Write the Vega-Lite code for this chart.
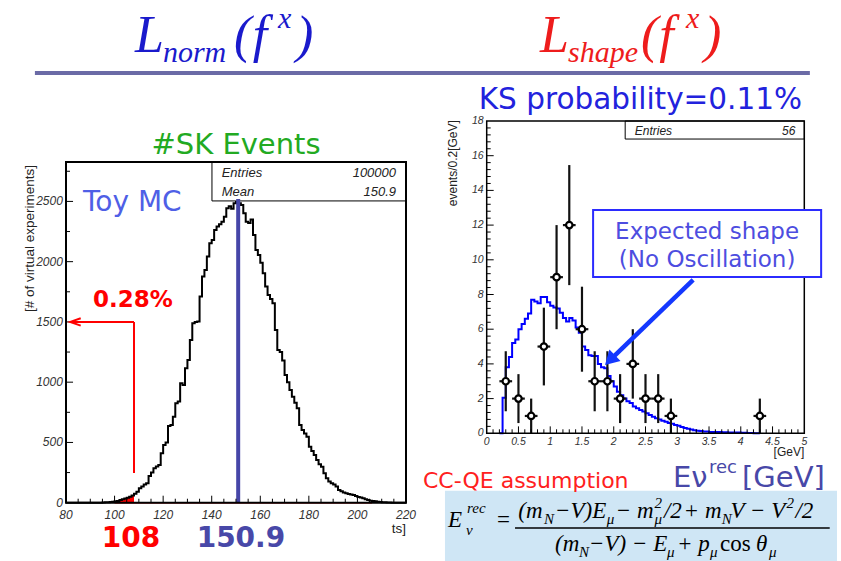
{
"$schema": "https://vega.github.io/schema/vega-lite/v6.json",
"width": 841, "height": 561,
"autosize": {"type": "none"},
"padding": 0,
"background": "white",
"config": {"view": {"stroke": null}},
"datasets": {
"toy": [{"x":80,"n":0},{"x":94,"n":0},{"x":95,"n":2},{"x":96,"n":3},{"x":97,"n":4},{"x":98,"n":5},{"x":99,"n":8},{"x":100,"n":12},{"x":101,"n":15},{"x":102,"n":22},{"x":103,"n":28},{"x":104,"n":35},{"x":105,"n":42},{"x":106,"n":50},{"x":107,"n":60},{"x":108,"n":75},{"x":109,"n":91},{"x":110,"n":119},{"x":111,"n":135},{"x":112,"n":150},{"x":113,"n":161},{"x":114,"n":222},{"x":115,"n":250},{"x":116,"n":285},{"x":117,"n":300},{"x":118,"n":313},{"x":119,"n":410},{"x":120,"n":479},{"x":121,"n":500},{"x":122,"n":636},{"x":123,"n":645},{"x":124,"n":714},{"x":125,"n":825},{"x":126,"n":839},{"x":127,"n":991},{"x":128,"n":977},{"x":129,"n":1115},{"x":130,"n":1184},{"x":131,"n":1350},{"x":132,"n":1489},{"x":133,"n":1500},{"x":134,"n":1503},{"x":135,"n":1710},{"x":136,"n":1876},{"x":137,"n":1931},{"x":138,"n":2042},{"x":139,"n":2153},{"x":140,"n":2180},{"x":141,"n":2263},{"x":142,"n":2291},{"x":143,"n":2310},{"x":144,"n":2332},{"x":145,"n":2373},{"x":146,"n":2443},{"x":147,"n":2460},{"x":148,"n":2440},{"x":149,"n":2485},{"x":150,"n":2500},{"x":151,"n":2485},{"x":152,"n":2470},{"x":153,"n":2402},{"x":154,"n":2332},{"x":155,"n":2320},{"x":156,"n":2350},{"x":157,"n":2222},{"x":158,"n":2097},{"x":159,"n":2056},{"x":160,"n":1990},{"x":161,"n":1904},{"x":162,"n":1793},{"x":163,"n":1724},{"x":164,"n":1690},{"x":165,"n":1655},{"x":166,"n":1433},{"x":167,"n":1267},{"x":168,"n":1250},{"x":169,"n":1180},{"x":170,"n":1060},{"x":171,"n":1000},{"x":172,"n":935},{"x":173,"n":880},{"x":174,"n":830},{"x":175,"n":783},{"x":176,"n":645},{"x":177,"n":603},{"x":178,"n":575},{"x":179,"n":548},{"x":180,"n":465},{"x":181,"n":430},{"x":182,"n":396},{"x":183,"n":355},{"x":184,"n":320},{"x":185,"n":299},{"x":186,"n":244},{"x":187,"n":203},{"x":188,"n":175},{"x":189,"n":161},{"x":190,"n":150},{"x":191,"n":134},{"x":192,"n":105},{"x":193,"n":95},{"x":194,"n":85},{"x":195,"n":78},{"x":196,"n":72},{"x":197,"n":68},{"x":198,"n":64},{"x":199,"n":55},{"x":200,"n":48},{"x":201,"n":44},{"x":202,"n":36},{"x":203,"n":28},{"x":204,"n":22},{"x":205,"n":17},{"x":206,"n":14},{"x":207,"n":11},{"x":208,"n":8},{"x":209,"n":6},{"x":210,"n":4},{"x":211,"n":3},{"x":212,"n":2},{"x":213,"n":1},{"x":214,"n":0},{"x":220,"n":0}],
"exp": [{"x":0.2,"n":0},{"x":0.25,"n":2.05},{"x":0.3,"n":3.8},{"x":0.35,"n":4.4},{"x":0.4,"n":5.2},{"x":0.45,"n":5.4},{"x":0.5,"n":6.0},{"x":0.55,"n":6.3},{"x":0.6,"n":6.6},{"x":0.65,"n":6.9},{"x":0.7,"n":7.7},{"x":0.75,"n":7.6},{"x":0.8,"n":7.5},{"x":0.85,"n":7.85},{"x":0.9,"n":7.85},{"x":0.95,"n":7.55},{"x":1.0,"n":7.35},{"x":1.05,"n":7.25},{"x":1.1,"n":7.2},{"x":1.15,"n":6.95},{"x":1.2,"n":6.65},{"x":1.25,"n":6.45},{"x":1.3,"n":6.65},{"x":1.35,"n":6.5},{"x":1.4,"n":6.1},{"x":1.45,"n":5.8},{"x":1.5,"n":5.0},{"x":1.55,"n":4.8},{"x":1.6,"n":4.5},{"x":1.65,"n":4.45},{"x":1.7,"n":4.45},{"x":1.75,"n":4.0},{"x":1.8,"n":3.8},{"x":1.85,"n":3.75},{"x":1.9,"n":3.3},{"x":1.95,"n":3.0},{"x":2.0,"n":2.7},{"x":2.05,"n":2.4},{"x":2.1,"n":2.2},{"x":2.15,"n":2.0},{"x":2.2,"n":1.85},{"x":2.25,"n":1.75},{"x":2.3,"n":1.55},{"x":2.35,"n":1.45},{"x":2.4,"n":1.35},{"x":2.45,"n":1.25},{"x":2.5,"n":1.15},{"x":2.55,"n":1.05},{"x":2.6,"n":0.95},{"x":2.65,"n":0.87},{"x":2.7,"n":0.8},{"x":2.75,"n":0.72},{"x":2.8,"n":0.66},{"x":2.85,"n":0.6},{"x":2.9,"n":0.55},{"x":2.95,"n":0.48},{"x":3.0,"n":0.43},{"x":3.05,"n":0.36},{"x":3.1,"n":0.3},{"x":3.15,"n":0.26},{"x":3.2,"n":0.22},{"x":3.25,"n":0.18},{"x":3.3,"n":0.15},{"x":3.35,"n":0.13},{"x":3.4,"n":0.11},{"x":3.45,"n":0.1},{"x":3.5,"n":0.08},{"x":3.6,"n":0.07},{"x":3.7,"n":0.06},{"x":3.8,"n":0.05},{"x":3.9,"n":0.04},{"x":4.0,"n":0.03},{"x":4.1,"n":0.02},{"x":4.2,"n":0.01},{"x":4.3,"n":0}],
"pts": [{"x":0.3,"n":3,"lo":1.27,"hi":4.73,"xl":0.2,"xh":0.4},{"x":0.5,"n":2,"lo":0.59,"hi":3.41,"xl":0.4,"xh":0.6},{"x":0.7,"n":1,"lo":0,"hi":2,"xl":0.6,"xh":0.8},{"x":0.9,"n":5,"lo":2.76,"hi":7.24,"xl":0.8,"xh":1.0},{"x":1.1,"n":9,"lo":6,"hi":12,"xl":1.0,"xh":1.2},{"x":1.3,"n":12,"lo":8.54,"hi":15.46,"xl":1.2,"xh":1.4},{"x":1.5,"n":6,"lo":3.55,"hi":8.45,"xl":1.4,"xh":1.6},{"x":1.7,"n":3,"lo":1.27,"hi":4.73,"xl":1.6,"xh":1.8},{"x":1.9,"n":3,"lo":1.27,"hi":4.73,"xl":1.8,"xh":2.0},{"x":2.1,"n":2,"lo":0.59,"hi":3.41,"xl":2.0,"xh":2.2},{"x":2.3,"n":4,"lo":2,"hi":6,"xl":2.2,"xh":2.4},{"x":2.5,"n":2,"lo":0.59,"hi":3.41,"xl":2.4,"xh":2.6},{"x":2.7,"n":2,"lo":0.59,"hi":3.41,"xl":2.6,"xh":2.8},{"x":2.9,"n":1,"lo":0,"hi":2,"xl":2.8,"xh":3.0},{"x":4.3,"n":1,"lo":0,"hi":2,"xl":4.2,"xh":4.4}],
"lxLab": [{"v":80},{"v":100},{"v":120},{"v":140},{"v":160},{"v":180},{"v":200},{"v":220}],
"lyLab": [{"v":0},{"v":500},{"v":1000},{"v":1500},{"v":2000},{"v":2500}],
"rxLab": [{"v":0},{"v":0.5},{"v":1},{"v":1.5},{"v":2},{"v":2.5},{"v":3},{"v":3.5},{"v":4},{"v":4.5},{"v":5}],
"ryLab": [{"v":0},{"v":2},{"v":4},{"v":6},{"v":8},{"v":10},{"v":12},{"v":14},{"v":16},{"v":18}],
"lxMaj": [{"v":100},{"v":120},{"v":140},{"v":160},{"v":180},{"v":200}],
"lxMin": [{"v":85},{"v":90},{"v":95},{"v":105},{"v":110},{"v":115},{"v":125},{"v":130},{"v":135},{"v":145},{"v":150},{"v":155},{"v":165},{"v":170},{"v":175},{"v":185},{"v":190},{"v":195},{"v":205},{"v":210},{"v":215}],
"lyMaj": [{"v":500},{"v":1000},{"v":1500},{"v":2000},{"v":2500}],
"lyMin": [{"v":250},{"v":750},{"v":1250},{"v":1750},{"v":2250},{"v":2750}],
"rxMaj": [{"v":0.5},{"v":1},{"v":1.5},{"v":2},{"v":2.5},{"v":3},{"v":3.5},{"v":4},{"v":4.5}],
"rxMin": [{"v":0.1},{"v":0.2},{"v":0.3},{"v":0.4},{"v":0.6},{"v":0.7},{"v":0.8},{"v":0.9},{"v":1.1},{"v":1.2},{"v":1.3},{"v":1.4},{"v":1.6},{"v":1.7},{"v":1.8},{"v":1.9},{"v":2.1},{"v":2.2},{"v":2.3},{"v":2.4},{"v":2.6},{"v":2.7},{"v":2.8},{"v":2.9},{"v":3.1},{"v":3.2},{"v":3.3},{"v":3.4},{"v":3.6},{"v":3.7},{"v":3.8},{"v":3.9},{"v":4.1},{"v":4.2},{"v":4.3},{"v":4.4},{"v":4.6},{"v":4.7},{"v":4.8},{"v":4.9}],
"ryMaj": [{"v":2},{"v":4},{"v":6},{"v":8},{"v":10},{"v":12},{"v":14},{"v":16}],
"ryMin": [{"v":0.4},{"v":0.8},{"v":1.2},{"v":1.6},{"v":2.4},{"v":2.8},{"v":3.2},{"v":3.6},{"v":4.4},{"v":4.8},{"v":5.2},{"v":5.6},{"v":6.4},{"v":6.8},{"v":7.2},{"v":7.6},{"v":8.4},{"v":8.8},{"v":9.2},{"v":9.6},{"v":10.4},{"v":10.8},{"v":11.2},{"v":11.6},{"v":12.4},{"v":12.8},{"v":13.2},{"v":13.6},{"v":14.4},{"v":14.8},{"v":15.2},{"v":15.6},{"v":16.4},{"v":16.8},{"v":17.2},{"v":17.6}]
},
"layer": [
{
"layer": [
{"data": {"name": "toy"}, "transform": [{"filter": "datum.x >= 94 && datum.x <= 108"}], "mark": {"type": "area", "interpolate": "step-after", "color": "#ff0000"}, "encoding": {"x": {"field": "x", "type": "quantitative", "axis": null}, "y": {"field": "n", "type": "quantitative", "axis": null}}},
{"data": {"values": [{"a": 100, "b": 206, "y": 0}]}, "mark": {"type": "rule", "color": "#ff0000", "strokeWidth": 1.5}, "encoding": {"x": {"field": "a", "type": "quantitative", "axis": null}, "x2": {"field": "b"}, "y": {"field": "y", "type": "quantitative", "axis": null}}},
{"data": {"name": "toy"}, "mark": {"type": "line", "interpolate": "step-after", "color": "#000000", "strokeWidth": 2}, "encoding": {
  "x": {"field": "x", "type": "quantitative", "scale": {"domain": [80, 220], "range": [66, 406], "nice": false, "zero": false}, "axis": null},
  "y": {"field": "n", "type": "quantitative", "scale": {"domain": [0, 2827], "range": [502.7, 162], "nice": false, "zero": false}, "axis": null}}},
{"data": {"values": [{"a": 140.1, "b": 220, "c": 2504, "d": 2827}]}, "mark": {"type": "rect", "fill": "white", "stroke": "black", "strokeWidth": 1}, "encoding": {"x": {"field": "a", "type": "quantitative", "axis": null}, "x2": {"field": "b"}, "y": {"field": "c", "type": "quantitative", "axis": null}, "y2": {"field": "d"}}},
{"data": {"values": [{"x": 150.9, "a": 0, "b": 2520}]}, "mark": {"type": "rule", "color": "#4646a8", "strokeWidth": 4}, "encoding": {"x": {"field": "x", "type": "quantitative", "axis": null}, "y": {"field": "a", "type": "quantitative", "axis": null}, "y2": {"field": "b"}}},
{"data": {"values": [{"t": "Entries", "x": 144.1, "y": 2739}, {"t": "Mean", "x": 144.1, "y": 2576}]}, "mark": {"type": "text", "font": "Liberation Sans", "fontStyle": "italic", "fontSize": 13, "color": "#222222", "align": "left", "baseline": "middle"}, "encoding": {"x": {"field": "x", "type": "quantitative", "axis": null}, "y": {"field": "y", "type": "quantitative", "axis": null}, "text": {"field": "t"}}},
{"data": {"values": [{"t": "100000", "x": 215.9, "y": 2739}, {"t": "150.9", "x": 215.9, "y": 2576}]}, "mark": {"type": "text", "font": "Liberation Sans", "fontStyle": "italic", "fontSize": 13, "color": "#222222", "align": "right", "baseline": "middle"}, "encoding": {"x": {"field": "x", "type": "quantitative", "axis": null}, "y": {"field": "y", "type": "quantitative", "axis": null}, "text": {"field": "t"}}},
{"data": {"values": [{"a": 80, "b": 220, "c": 0, "d": 2827}]}, "mark": {"type": "rect", "fill": "white", "fillOpacity": 0, "stroke": "black", "strokeWidth": 2}, "encoding": {"x": {"field": "a", "type": "quantitative", "axis": null}, "x2": {"field": "b"}, "y": {"field": "c", "type": "quantitative", "axis": null}, "y2": {"field": "d"}}},
{"data": {"name": "lxMaj"}, "mark": {"type": "rule", "color": "black", "strokeWidth": 1}, "encoding": {"x": {"field": "v", "type": "quantitative", "axis": null}, "y": {"datum": 0, "type": "quantitative", "axis": null}, "y2": {"datum": 58}}},
{"data": {"name": "lxMin"}, "mark": {"type": "rule", "color": "black", "strokeWidth": 1}, "encoding": {"x": {"field": "v", "type": "quantitative", "axis": null}, "y": {"datum": 0, "type": "quantitative", "axis": null}, "y2": {"datum": 33}}},
{"data": {"name": "lyMaj"}, "mark": {"type": "rule", "color": "black", "strokeWidth": 1}, "encoding": {"y": {"field": "v", "type": "quantitative", "axis": null}, "x": {"datum": 80, "type": "quantitative", "axis": null}, "x2": {"datum": 82.9}}},
{"data": {"name": "lyMin"}, "mark": {"type": "rule", "color": "black", "strokeWidth": 1}, "encoding": {"y": {"field": "v", "type": "quantitative", "axis": null}, "x": {"datum": 80, "type": "quantitative", "axis": null}, "x2": {"datum": 81.65}}},
{"data": {"name": "lxLab"}, "mark": {"type": "text", "font": "Liberation Sans", "fontStyle": "italic", "fontSize": 12, "color": "#333333", "align": "center", "baseline": "top"}, "encoding": {"x": {"field": "v", "type": "quantitative", "axis": null}, "y": {"datum": -60, "type": "quantitative", "axis": null}, "text": {"field": "v", "type": "quantitative", "format": "~g"}}},
{"data": {"name": "lyLab"}, "mark": {"type": "text", "font": "Liberation Sans", "fontStyle": "italic", "fontSize": 12, "color": "#333333", "align": "right", "baseline": "middle"}, "encoding": {"y": {"field": "v", "type": "quantitative", "axis": null}, "x": {"datum": 78.7, "type": "quantitative", "axis": null}, "text": {"field": "v", "type": "quantitative", "format": "~g"}}},
{"data": {"values": [{"x": 108, "a": 246, "b": 1500}]}, "mark": {"type": "rule", "color": "#ff0000", "strokeWidth": 2}, "encoding": {"x": {"field": "x", "type": "quantitative", "axis": null}, "y": {"field": "a", "type": "quantitative", "axis": null}, "y2": {"field": "b"}}},
{"data": {"values": [{"a": 108, "b": 81.6, "y": 1500}]}, "mark": {"type": "rule", "color": "#ff0000", "strokeWidth": 2}, "encoding": {"x": {"field": "a", "type": "quantitative", "axis": null}, "x2": {"field": "b"}, "y": {"field": "y", "type": "quantitative", "axis": null}}},
{"data": {"values": [{"x": 83.9, "y": 1500}]}, "mark": {"type": "point", "shape": "M1,-0.7L-1,0L1,0.7", "filled": false, "color": "#ff0000", "strokeWidth": 2, "size": 110, "opacity": 1}, "encoding": {"x": {"field": "x", "type": "quantitative", "axis": null}, "y": {"field": "y", "type": "quantitative", "axis": null}}},
{"data": {"values": [{"a": 67.2, "b": 386.3, "y": 3566}]}, "mark": {"type": "rule", "color": "#6b6ba6", "strokeWidth": 4}, "encoding": {"x": {"field": "a", "type": "quantitative", "axis": null}, "x2": {"field": "b"}, "y": {"field": "y", "type": "quantitative", "axis": null}}},
{"data": {"values": [{"t": "#SK Events", "x": 150, "y": 2968}]}, "mark": {"type": "text", "font": "DejaVu Sans", "fontSize": 29, "color": "#22aa22", "align": "center", "baseline": "middle"}, "encoding": {"x": {"field": "x", "type": "quantitative", "axis": null}, "y": {"field": "y", "type": "quantitative", "axis": null}, "text": {"field": "t"}}},
{"data": {"values": [{"t": "Toy MC", "x": 87, "y": 2487}]}, "mark": {"type": "text", "font": "DejaVu Sans", "fontSize": 28, "color": "#4f5fe6", "align": "left", "baseline": "middle"}, "encoding": {"x": {"field": "x", "type": "quantitative", "axis": null}, "y": {"field": "y", "type": "quantitative", "axis": null}, "text": {"field": "t"}}},
{"data": {"values": [{"t": "0.28%", "x": 91.1, "y": 1682}]}, "mark": {"type": "text", "font": "DejaVu Sans", "fontWeight": "bold", "fontSize": 23, "color": "#ff0000", "align": "left", "baseline": "middle"}, "encoding": {"x": {"field": "x", "type": "quantitative", "axis": null}, "y": {"field": "y", "type": "quantitative", "axis": null}, "text": {"field": "t"}}},
{"data": {"values": [{"t": "108", "x": 94.7, "y": -302}]}, "mark": {"type": "text", "font": "DejaVu Sans", "fontWeight": "bold", "fontSize": 28, "color": "#ff0000", "align": "left", "baseline": "middle"}, "encoding": {"x": {"field": "x", "type": "quantitative", "axis": null}, "y": {"field": "y", "type": "quantitative", "axis": null}, "text": {"field": "t"}}},
{"data": {"values": [{"t": "150.9", "x": 133.8, "y": -302}]}, "mark": {"type": "text", "font": "DejaVu Sans", "fontWeight": "bold", "fontSize": 28, "color": "#4848a8", "align": "left", "baseline": "middle"}, "encoding": {"x": {"field": "x", "type": "quantitative", "axis": null}, "y": {"field": "y", "type": "quantitative", "axis": null}, "text": {"field": "t"}}},
{"data": {"values": [{"t": "[# of virtual experiments]", "x": 65.2, "y": 2802}]}, "mark": {"type": "text", "font": "Liberation Sans", "fontSize": 13.5, "color": "#222222", "angle": 270, "align": "right", "baseline": "middle"}, "encoding": {"x": {"field": "x", "type": "quantitative", "axis": null}, "y": {"field": "y", "type": "quantitative", "axis": null}, "text": {"field": "t"}}},
{"data": {"values": [{"t": "ts]", "x": 220, "y": -222}]}, "mark": {"type": "text", "font": "Liberation Sans", "fontSize": 13.5, "color": "#222222", "align": "right", "baseline": "middle"}, "encoding": {"x": {"field": "x", "type": "quantitative", "axis": null}, "y": {"field": "y", "type": "quantitative", "axis": null}, "text": {"field": "t"}}},
{"data": {"values": [{"t": "L", "x": 108.4, "y": 3740}, {"t": "(", "x": 149.2, "y": 3740}, {"t": "f", "x": 156.9, "y": 3740}, {"t": ")", "x": 174.7, "y": 3740}]}, "mark": {"type": "text", "font": "Liberation Serif", "fontStyle": "italic", "fontSize": 52, "color": "#1a1acc", "align": "left", "baseline": "alphabetic"}, "encoding": {"x": {"field": "x", "type": "quantitative", "axis": null}, "y": {"field": "y", "type": "quantitative", "axis": null}, "text": {"field": "t"}}},
{"data": {"values": [{"t": "norm", "x": 119.9, "y": 3657}, {"t": "x", "x": 167.3, "y": 3940}]}, "mark": {"type": "text", "font": "Liberation Serif", "fontStyle": "italic", "fontSize": 30, "color": "#1a1acc", "align": "left", "baseline": "alphabetic"}, "encoding": {"x": {"field": "x", "type": "quantitative", "axis": null}, "y": {"field": "y", "type": "quantitative", "axis": null}, "text": {"field": "t"}}}
]
},
{
"layer": [
{"data": {"values": [{"a": -0.657, "b": 5.515, "c": -3.31, "d": -7.6}]}, "mark": {"type": "rect", "fill": "#cfe6f5"}, "encoding": {"x": {"field": "a", "type": "quantitative", "axis": null}, "x2": {"field": "b"}, "y": {"field": "c", "type": "quantitative", "axis": null}, "y2": {"field": "d"}}},
{"data": {"values": [{"a": 2.18, "b": 5, "c": 16.96, "d": 18}]}, "mark": {"type": "rect", "fill": "white", "stroke": "black", "strokeWidth": 1}, "encoding": {"x": {"field": "a", "type": "quantitative", "axis": null}, "x2": {"field": "b"}, "y": {"field": "c", "type": "quantitative", "axis": null}, "y2": {"field": "d"}}},
{"data": {"name": "exp"}, "mark": {"type": "line", "interpolate": "step-after", "color": "#0000ff", "strokeWidth": 2}, "encoding": {
  "x": {"field": "x", "type": "quantitative", "scale": {"domain": [0, 5], "range": [486.7, 804.3], "nice": false, "zero": false}, "axis": null},
  "y": {"field": "n", "type": "quantitative", "scale": {"domain": [0, 18], "range": [433.3, 121], "nice": false, "zero": false}, "axis": null}}},
{"data": {"name": "pts"}, "mark": {"type": "rule", "color": "#111111", "strokeWidth": 2.2}, "encoding": {"x": {"field": "x", "type": "quantitative", "axis": null}, "y": {"field": "lo", "type": "quantitative", "axis": null}, "y2": {"field": "hi"}}},
{"data": {"name": "pts"}, "mark": {"type": "rule", "color": "#111111", "strokeWidth": 2.2}, "encoding": {"x": {"field": "xl", "type": "quantitative", "axis": null}, "x2": {"field": "xh"}, "y": {"field": "n", "type": "quantitative", "axis": null}}},
{"data": {"name": "pts"}, "mark": {"type": "point", "filled": true, "fill": "white", "stroke": "black", "strokeWidth": 2.2, "size": 42, "opacity": 1}, "encoding": {"x": {"field": "x", "type": "quantitative", "axis": null}, "y": {"field": "n", "type": "quantitative", "axis": null}}},
{"data": {"values": [{"a": 0, "b": 5, "c": 0, "d": 18}]}, "mark": {"type": "rect", "fill": "white", "fillOpacity": 0, "stroke": "black", "strokeWidth": 1.5}, "encoding": {"x": {"field": "a", "type": "quantitative", "axis": null}, "x2": {"field": "b"}, "y": {"field": "c", "type": "quantitative", "axis": null}, "y2": {"field": "d"}}},
{"data": {"name": "rxMaj"}, "mark": {"type": "rule", "color": "black", "strokeWidth": 1}, "encoding": {"x": {"field": "v", "type": "quantitative", "axis": null}, "y": {"datum": 0, "type": "quantitative", "axis": null}, "y2": {"datum": 0.4}}},
{"data": {"name": "rxMin"}, "mark": {"type": "rule", "color": "black", "strokeWidth": 1}, "encoding": {"x": {"field": "v", "type": "quantitative", "axis": null}, "y": {"datum": 0, "type": "quantitative", "axis": null}, "y2": {"datum": 0.23}}},
{"data": {"name": "ryMaj"}, "mark": {"type": "rule", "color": "black", "strokeWidth": 1}, "encoding": {"y": {"field": "v", "type": "quantitative", "axis": null}, "x": {"datum": 0, "type": "quantitative", "axis": null}, "x2": {"datum": 0.11}}},
{"data": {"name": "ryMin"}, "mark": {"type": "rule", "color": "black", "strokeWidth": 1}, "encoding": {"y": {"field": "v", "type": "quantitative", "axis": null}, "x": {"datum": 0, "type": "quantitative", "axis": null}, "x2": {"datum": 0.063}}},
{"data": {"name": "rxLab"}, "mark": {"type": "text", "font": "Liberation Sans", "fontStyle": "italic", "fontSize": 10.5, "color": "#333333", "align": "center", "baseline": "top"}, "encoding": {"x": {"field": "v", "type": "quantitative", "axis": null}, "y": {"datum": -0.2, "type": "quantitative", "axis": null}, "text": {"field": "v", "type": "quantitative", "format": "~g"}}},
{"data": {"name": "ryLab"}, "mark": {"type": "text", "font": "Liberation Sans", "fontStyle": "italic", "fontSize": 10.5, "color": "#333333", "align": "right", "baseline": "middle"}, "encoding": {"y": {"field": "v", "type": "quantitative", "axis": null}, "x": {"datum": -0.047, "type": "quantitative", "axis": null}, "text": {"field": "v", "type": "quantitative", "format": "~g"}}},
{"data": {"values": [{"a": 1.675, "b": 5.265, "c": 9.01, "d": 12.87}]}, "mark": {"type": "rect", "fill": "white", "stroke": "#2b2bff", "strokeWidth": 2}, "encoding": {"x": {"field": "a", "type": "quantitative", "axis": null}, "x2": {"field": "b"}, "y": {"field": "c", "type": "quantitative", "axis": null}, "y2": {"field": "d"}}},
{"data": {"values": [{"t": "Expected shape", "x": 3.47, "y": 11.62}, {"t": "(No Oscillation)", "x": 3.47, "y": 9.97}]}, "mark": {"type": "text", "font": "DejaVu Sans", "fontSize": 23, "color": "#4d4de0", "align": "center", "baseline": "middle"}, "encoding": {"x": {"field": "x", "type": "quantitative", "axis": null}, "y": {"field": "y", "type": "quantitative", "axis": null}, "text": {"field": "t"}}},
{"data": {"values": [{"a": 3.25, "b": 1.941, "c": 8.84, "d": 4.22}]}, "mark": {"type": "rule", "color": "#1438ff", "strokeWidth": 4.5}, "encoding": {"x": {"field": "a", "type": "quantitative", "axis": null}, "x2": {"field": "b"}, "y": {"field": "c", "type": "quantitative", "axis": null}, "y2": {"field": "d"}}},
{"data": {"values": [{"x": 1.941, "y": 4.22}]}, "mark": {"type": "point", "shape": "triangle-up", "filled": true, "color": "#1438ff", "size": 256, "angle": 226, "opacity": 1}, "encoding": {"x": {"field": "x", "type": "quantitative", "axis": null}, "y": {"field": "y", "type": "quantitative", "axis": null}}},
{"data": {"values": [{"t": "Entries", "x": 2.33, "y": 17.44}]}, "mark": {"type": "text", "font": "Liberation Sans", "fontStyle": "italic", "fontSize": 12, "color": "#222222", "align": "left", "baseline": "middle"}, "encoding": {"x": {"field": "x", "type": "quantitative", "axis": null}, "y": {"field": "y", "type": "quantitative", "axis": null}, "text": {"field": "t"}}},
{"data": {"values": [{"t": "56", "x": 4.86, "y": 17.44}]}, "mark": {"type": "text", "font": "Liberation Sans", "fontStyle": "italic", "fontSize": 12, "color": "#222222", "align": "right", "baseline": "middle"}, "encoding": {"x": {"field": "x", "type": "quantitative", "axis": null}, "y": {"field": "y", "type": "quantitative", "axis": null}, "text": {"field": "t"}}},
{"data": {"values": [{"t": "events/0.2[GeV]", "x": -0.53, "y": 18.05}]}, "mark": {"type": "text", "font": "Liberation Sans", "fontSize": 12, "color": "#222222", "angle": 270, "align": "right", "baseline": "middle"}, "encoding": {"x": {"field": "x", "type": "quantitative", "axis": null}, "y": {"field": "y", "type": "quantitative", "axis": null}, "text": {"field": "t"}}},
{"data": {"values": [{"t": "[GeV]", "x": 5, "y": -1.05}]}, "mark": {"type": "text", "font": "Liberation Sans", "fontSize": 12, "color": "#222222", "align": "right", "baseline": "middle"}, "encoding": {"x": {"field": "x", "type": "quantitative", "axis": null}, "y": {"field": "y", "type": "quantitative", "axis": null}, "text": {"field": "t"}}},
{"data": {"values": [{"t": "KS probability=0.11%", "x": 2.42, "y": 19.21}]}, "mark": {"type": "text", "font": "DejaVu Sans", "fontSize": 29.5, "color": "#2222dd", "align": "center", "baseline": "middle"}, "encoding": {"x": {"field": "x", "type": "quantitative", "axis": null}, "y": {"field": "y", "type": "quantitative", "axis": null}, "text": {"field": "t"}}},
{"data": {"values": [{"t": "Eν", "x": 2.933, "y": -3.1}, {"t": "[GeV]", "x": 4.02, "y": -3.1}]}, "mark": {"type": "text", "font": "DejaVu Sans", "fontSize": 29, "color": "#4848a8", "align": "left", "baseline": "alphabetic"}, "encoding": {"x": {"field": "x", "type": "quantitative", "axis": null}, "y": {"field": "y", "type": "quantitative", "axis": null}, "text": {"field": "t"}}},
{"data": {"values": [{"t": "rec", "x": 3.5, "y": -2.28}]}, "mark": {"type": "text", "font": "DejaVu Sans", "fontSize": 18, "color": "#4848a8", "align": "left", "baseline": "alphabetic"}, "encoding": {"x": {"field": "x", "type": "quantitative", "axis": null}, "y": {"field": "y", "type": "quantitative", "axis": null}, "text": {"field": "t"}}},
{"data": {"values": [{"t": "CC-QE assumption", "x": -1.003, "y": -3.15}]}, "mark": {"type": "text", "font": "DejaVu Sans", "fontSize": 22, "color": "#ff2020", "align": "left", "baseline": "alphabetic"}, "encoding": {"x": {"field": "x", "type": "quantitative", "axis": null}, "y": {"field": "y", "type": "quantitative", "axis": null}, "text": {"field": "t"}}},
{"data": {"values": [{"t": "E", "x": -0.609, "y": -5.4}, {"t": "(m", "x": 0.498, "y": -4.88}, {"t": "−V)E", "x": 1.075, "y": -4.88}, {"t": "− m", "x": 2.03, "y": -4.88}, {"t": "/2", "x": 2.79, "y": -4.88}, {"t": "+ m", "x": 3.1, "y": -4.88}, {"t": "V − V", "x": 3.84, "y": -4.88}, {"t": "/2", "x": 4.86, "y": -4.88}, {"t": "(m", "x": 1.075, "y": -6.78}, {"t": "−V) − E", "x": 1.61, "y": -6.78}, {"t": "+ p", "x": 2.995, "y": -6.78}, {"t": "θ", "x": 4.239, "y": -6.78}]}, "mark": {"type": "text", "font": "Liberation Serif", "fontStyle": "italic", "fontSize": 23, "color": "black", "align": "left", "baseline": "alphabetic"}, "encoding": {"x": {"field": "x", "type": "quantitative", "axis": null}, "y": {"field": "y", "type": "quantitative", "axis": null}, "text": {"field": "t"}}},
{"data": {"values": [{"t": "=", "x": 0.162, "y": -5.4}, {"t": "cos", "x": 3.673, "y": -6.78}]}, "mark": {"type": "text", "font": "Liberation Serif", "fontSize": 23, "color": "black", "align": "left", "baseline": "alphabetic"}, "encoding": {"x": {"field": "x", "type": "quantitative", "axis": null}, "y": {"field": "y", "type": "quantitative", "axis": null}, "text": {"field": "t"}}},
{"data": {"values": [{"t": "ν", "x": -0.326, "y": -5.86}, {"t": "rec", "x": -0.31, "y": -4.59}, {"t": "N", "x": 0.902, "y": -5.23}, {"t": "μ", "x": 1.89, "y": -5.23}, {"t": "2", "x": 2.64, "y": -4.31}, {"t": "μ", "x": 2.64, "y": -5.23}, {"t": "N", "x": 3.7, "y": -5.23}, {"t": "2", "x": 4.72, "y": -4.31}, {"t": "N", "x": 1.453, "y": -7.13}, {"t": "μ", "x": 2.839, "y": -7.13}, {"t": "μ", "x": 3.516, "y": -7.13}, {"t": "μ", "x": 4.444, "y": -7.13}]}, "mark": {"type": "text", "font": "Liberation Serif", "fontStyle": "italic", "fontSize": 15, "color": "black", "align": "left", "baseline": "alphabetic"}, "encoding": {"x": {"field": "x", "type": "quantitative", "axis": null}, "y": {"field": "y", "type": "quantitative", "axis": null}, "text": {"field": "t"}}},
{"data": {"values": [{"a": 0.446, "b": 5.4, "y": -5.46}]}, "mark": {"type": "rule", "color": "black", "strokeWidth": 1.5}, "encoding": {"x": {"field": "a", "type": "quantitative", "axis": null}, "x2": {"field": "b"}, "y": {"field": "y", "type": "quantitative", "axis": null}}},
{"data": {"values": [{"t": "L", "x": 0.839, "y": 21.98}, {"t": "(", "x": 2.43, "y": 21.98}, {"t": "f", "x": 2.715, "y": 21.98}, {"t": ")", "x": 3.42, "y": 21.98}]}, "mark": {"type": "text", "font": "Liberation Serif", "fontStyle": "italic", "fontSize": 52, "color": "#ee1c1c", "align": "left", "baseline": "alphabetic"}, "encoding": {"x": {"field": "x", "type": "quantitative", "axis": null}, "y": {"field": "y", "type": "quantitative", "axis": null}, "text": {"field": "t"}}},
{"data": {"values": [{"t": "shape", "x": 1.28, "y": 21.4}, {"t": "x", "x": 3.138, "y": 23.36}]}, "mark": {"type": "text", "font": "Liberation Serif", "fontStyle": "italic", "fontSize": 30, "color": "#ee1c1c", "align": "left", "baseline": "alphabetic"}, "encoding": {"x": {"field": "x", "type": "quantitative", "axis": null}, "y": {"field": "y", "type": "quantitative", "axis": null}, "text": {"field": "t"}}}
]
}
],
"resolve": {"scale": {"x": "independent", "y": "independent"}}
}
